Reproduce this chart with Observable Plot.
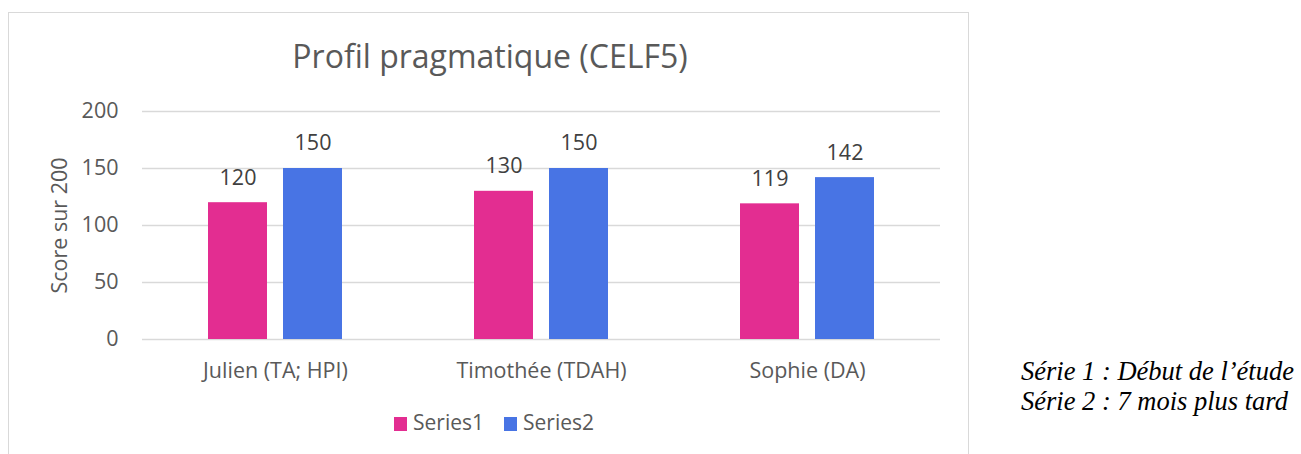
<!DOCTYPE html>
<html>
<head>
<meta charset="utf-8">
<script src="https://cdn.jsdelivr.net/npm/d3@7"></script>
<script src="https://cdn.jsdelivr.net/npm/@observablehq/plot@0.6"></script>
<style>
  html, body { margin: 0; padding: 0; background: #fff; }
  #page { position: relative; width: 1301px; height: 454px; overflow: hidden; background: #fff; }
  #box { position: absolute; left: 8px; top: 12px; width: 961px; height: 470px; border: 1px solid #d9d9d9; box-sizing: border-box; }
  #chart { position: absolute; left: 0; top: 0; }
  #title { position: absolute; left: 0; width: 980px; top: 40px; text-align: center; font-family: "Open Sans", sans-serif; font-size: 32px; line-height: 1; color: #595959; white-space: nowrap; }
  .sw { position: absolute; width: 13px; height: 14px; top: 417px; }
  .lt { position: absolute; top: 412px; font-family: "Open Sans", sans-serif; font-size: 21px; line-height: 1; color: #595959; white-space: nowrap; }
  #note { position: absolute; left: 1021px; top: 357px; font-family: "Liberation Serif", "Times New Roman", serif; font-style: italic; font-size: 26.5px; line-height: 29.5px; color: #000; white-space: nowrap; }
</style>
</head>
<body>
<div id="page">
  <div id="box"></div>
  <div id="chart"></div>
  <div id="title"></div>
  <div id="legend"></div>
  <div id="note"></div>
</div>
<script>
const categories = ["Julien (TA; HPI)", "Timothée (TDAH)", "Sophie (DA)"];
const series1 = [120, 130, 119];
const series2 = [150, 150, 142];
const seriesNames = ["Series1", "Series2"];
const seriesColors = ["#e32d91", "#4874e4"];
const yTicks = [0, 50, 100, 150, 200];
const titleText = "Profil pragmatique (CELF5)";
const yLabel = "Score sur 200";
const noteLines = ["Série 1 : Début de l’étude", "Série 2 : 7 mois plus tard"];

const data = categories.flatMap((c, i) => [
  {cat: c, series: seriesNames[0], value: series1[i]},
  {cat: c, series: seriesNames[1], value: series2[i]}
]);

const chart = Plot.plot({
  width: 970,
  height: 400,
  marginLeft: 141,
  marginRight: 29,
  marginTop: 111,
  marginBottom: 61,
  style: {fontFamily: "'Open Sans', sans-serif", fontSize: "21.5px", color: "#595959", background: "transparent", overflow: "visible"},
  fx: {domain: categories, padding: 0, label: null, axis: "bottom", tickSize: 0, tickPadding: 23},
  x: {domain: seriesNames, paddingInner: 0.2105, paddingOuter: 0.86, axis: null},
  y: {domain: [0, 200], ticks: yTicks, tickSize: 0, tickPadding: 24, label: yLabel, labelAnchor: "center", labelOffset: 91, labelArrow: "none"},
  color: {domain: seriesNames, range: seriesColors},
  marks: [
    Plot.gridY(yTicks, {stroke: "#d9d9d9", strokeOpacity: 1, strokeWidth: 1.3}),
    Plot.barY(data, {fx: "cat", x: "series", y: "value", fill: "series"}),
    Plot.text(data, {fx: "cat", x: "series", y: "value", text: d => String(d.value), dy: -25, fontSize: 21.5, fill: "#404040"})
  ]
});
document.getElementById("chart").appendChild(chart);

document.getElementById("title").textContent = titleText;

const legend = document.getElementById("legend");
const legendX = [394, 504];
seriesNames.forEach((s, i) => {
  const sw = document.createElement("div");
  sw.className = "sw";
  sw.style.left = legendX[i] + "px";
  sw.style.background = seriesColors[i];
  legend.appendChild(sw);
  const t = document.createElement("div");
  t.className = "lt";
  t.style.left = (legendX[i] + 19) + "px";
  t.textContent = s;
  legend.appendChild(t);
});

const note = document.getElementById("note");
noteLines.forEach(l => {
  const d = document.createElement("div");
  d.textContent = l;
  note.appendChild(d);
});
</script>
</body>
</html>
